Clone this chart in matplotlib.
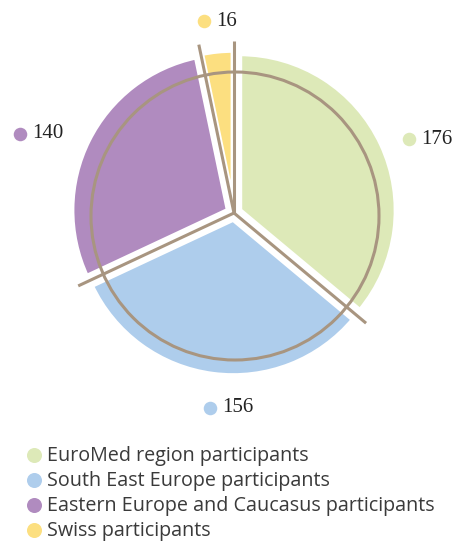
import matplotlib.pyplot as plt
import numpy as np

# Daten
categories = ['EuroMed region participants', 'South East Europe participants',
              'Eastern Europe and Caucasus participants', 'Swiss participants']
values = [176, 156, 140, 16]
colors = ['#dde9b8', '#aecdec', '#b08bbf', '#fcdf80']
line_color = '#a89580'

W, H = 455, 541
fig = plt.figure(figsize=(W / 100, H / 100), dpi=100)
ax = fig.add_axes([0, 0, 1, 1])

cx, cy = 234, H - 213
R = 157

# Kuchen (explode in Datenkoordinaten = Pixel)
wedges, _ = ax.pie(values, colors=colors, startangle=90, counterclock=False,
                   radius=R, center=(cx, cy), explode=[6] * 4,
                   wedgeprops=dict(edgecolor='white', linewidth=4), frame=True)
ax.set_xlim(0, W)
ax.set_ylim(0, H)
ax.set_aspect('equal')
ax.axis('off')

# Trennlinien vom Mittelpunkt
total = sum(values)
bounds = 90 - 360 * np.cumsum([0] + values[:-1]) / total
L = 172
for a in bounds:
    t = np.deg2rad(a)
    ax.plot([cx, cx + L * np.cos(t)], [cy, cy + L * np.sin(t)],
            color=line_color, lw=2.2, solid_capstyle='butt', zorder=5)

# Kreis
ax.add_patch(plt.Circle((cx + 1, H - 216), 144, fill=False, ec=line_color, lw=2.2, zorder=5))

# Wertelabels
label_pos = [(409, 139), (210, 408), (20, 134), (204, 21)]
for (x, y), v, c in zip(label_pos, values, colors):
    ax.scatter(x, H - y, s=95, color=c, lw=0, zorder=6)
    ax.text(x + 12, H - y, str(v), fontsize=15, family='Liberation Serif',
            color='#222222', va='center', ha='left')

# Legende
for i, (cat, c) in enumerate(zip(categories, colors)):
    y = H - (455 + i * 25)
    ax.scatter(33.5, y, s=117, color=c, lw=0)
    ax.text(47, y - 1, cat, fontsize=14.2, family='Open Sans', color='#3a3a3a',
            va='center', ha='left')

fig.savefig('out.png', dpi=100)
